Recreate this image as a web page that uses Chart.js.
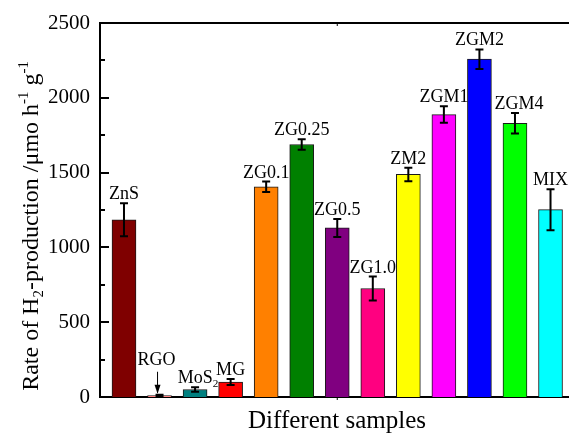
<!DOCTYPE html>
<html lang="en">
<head>
    <meta charset="UTF-8">
    <title>H2 production rate</title>
    <script src="https://cdn.jsdelivr.net/npm/chart.js"></script>
    <style>
        body { margin: 0; background: #fff; overflow: hidden; }
        canvas { display: block; }
    </style>
</head>
<body>
    <canvas id="rateChart" width="569" height="434"></canvas>

    <script>
        // sample names, rates (umol h-1 g-1) and error bars
        const samples = ["ZnS", "RGO", "MoS2", "MG", "ZG0.1", "ZG0.25", "ZG0.5", "ZG1.0", "ZM2", "ZGM1", "ZGM2", "ZGM4", "MIX"];
        const rates = [1185, 10, 50, 100, 1405, 1688, 1130, 725, 1488, 1888, 2258, 1830, 1252];
        const errors = [110, 5, 15, 20, 35, 35, 60, 80, 45, 55, 65, 68, 137];
        const barColors = ["#7f0000", "#ff8080", "#008080", "#ff0000", "#ff8000", "#008000", "#800080",
                           "#ff0080", "#ffff00", "#ff00ff", "#0000ff", "#00ff00", "#00ffff"];
        const yTicks = [0, 500, 1000, 1500, 2000, 2500];

        const serif = "'Liberation Serif', 'Times New Roman', serif";

        // draw text with sub/superscript pieces: [text, shift] where shift -1 sub, 1 sup
        function richText(ctx, parts, x, y, size) {
            let cx = x;
            parts.forEach(p => {
                let s = p[1] === 0 ? size : size * 0.62;
                let dy = p[1] === -1 ? size * 0.22 : (p[1] === 1 ? -size * 0.42 : 0);
                ctx.font = s + "px " + serif;
                ctx.fillText(p[0], cx, y + dy);
                cx += ctx.measureText(p[0]).width;
            });
            return cx - x;
        }
        function richWidth(ctx, parts, size) {
            let w = 0;
            parts.forEach(p => {
                ctx.font = (p[1] === 0 ? size : size * 0.62) + "px " + serif;
                w += ctx.measureText(p[0]).width;
            });
            return w;
        }

        const decorations = {
            id: "decorations",
            afterDatasetsDraw(chart) {
                const ctx = chart.ctx;
                const xs = chart.scales.x, ys = chart.scales.y;
                const area = chart.chartArea;
                ctx.save();
                ctx.strokeStyle = "#000";
                ctx.fillStyle = "#000";

                // frame: top and left lines
                ctx.lineWidth = 2;
                ctx.beginPath();
                ctx.moveTo(area.left, area.top);
                ctx.lineTo(area.right, area.top);
                ctx.moveTo(area.left, area.top - 1);
                ctx.lineTo(area.left, area.bottom + 1);
                ctx.stroke();

                // inward ticks on the y axis, major + minor
                for (let v = 0; v <= 2500; v += 250) {
                    let y = Math.round(ys.getPixelForValue(v));
                    let len = v % 500 === 0 ? 9 : 5;
                    ctx.beginPath();
                    ctx.moveTo(area.left, y);
                    ctx.lineTo(area.left + len, y);
                    ctx.stroke();
                }
                // small ticks on the x axis
                let tx = xs.getPixelForValue(6);
                ctx.lineWidth = 1;
                ctx.beginPath();
                ctx.moveTo(tx, area.bottom); ctx.lineTo(tx, area.bottom + 3);
                ctx.moveTo(tx, area.top); ctx.lineTo(tx, area.top + 3);
                ctx.stroke();

                // error bars
                ctx.lineWidth = 2;
                samples.forEach((s, i) => {
                    let x = xs.getPixelForValue(i);
                    let yt = ys.getPixelForValue(rates[i] + errors[i]);
                    let yb = ys.getPixelForValue(Math.max(rates[i] - errors[i], 0));
                    ctx.beginPath();
                    ctx.moveTo(x, yt); ctx.lineTo(x, yb);
                    ctx.moveTo(x - 4, yt); ctx.lineTo(x + 4, yt);
                    ctx.moveTo(x - 4, yb); ctx.lineTo(x + 4, yb);
                    ctx.stroke();
                });

                // sample labels above each bar
                ctx.textBaseline = "alphabetic";
                ctx.textAlign = "left";
                const fs = 18;
                samples.forEach((s, i) => {
                    let x = xs.getPixelForValue(i);
                    let yt = ys.getPixelForValue(rates[i] + errors[i]);
                    let parts = s === "MoS2" ? [["MoS", 0], ["2", -1]] : [[s, 0]];
                    let w = richWidth(ctx, parts, fs);
                    let base = yt - 4;
                    let dx = 0;
                    if (s === "RGO") {
                        base = yt - 30;
                        dx = -3;
                        // arrow pointing down to the tiny bar
                        ctx.lineWidth = 1;
                        ctx.beginPath();
                        ctx.moveTo(x - 2, base + 7);
                        ctx.lineTo(x - 2, yt - 2);
                        ctx.stroke();
                        ctx.beginPath();
                        ctx.moveTo(x - 5, yt - 10);
                        ctx.lineTo(x - 2, yt - 1);
                        ctx.lineTo(x + 1, yt - 10);
                        ctx.closePath();
                        ctx.fill();
                    }
                    if (s === "MoS2") dx = 3;
                    if (s === "ZGM4") dx = 4;
                    richText(ctx, parts, x - w / 2 + dx, base, fs);
                });

                // x axis title
                ctx.font = "25px " + serif;
                ctx.textAlign = "center";
                ctx.fillText("Different samples", 337, 428);

                // y axis title with subscript and superscripts
                ctx.textAlign = "left";
                const title = [["Rate of H", 0], ["2", -1], ["-production /\u03bcmo h", 0], ["-1", 1], [" g", 0], ["-1", 1]];
                const ts = 24;
                let tw = richWidth(ctx, title, ts);
                ctx.translate(38, 226);
                ctx.rotate(-Math.PI / 2);
                richText(ctx, title, -tw / 2, 0, ts);
                ctx.restore();
            }
        };

        new Chart(document.getElementById("rateChart"), {
            type: "bar",
            data: {
                datasets: [{
                    data: samples.map((s, i) => ({ x: i, y: rates[i] })),
                    backgroundColor: barColors,
                    borderColor: "#1a1a1a",
                    borderWidth: 1,
                    barThickness: 24
                }]
            },
            options: {
                responsive: false,
                animation: false,
                layout: { padding: { top: 23, right: 0, left: 0, bottom: 0 } },
                plugins: { legend: { display: false }, tooltip: { enabled: false } },
                scales: {
                    x: {
                        type: "linear",
                        offset: false,
                        min: -0.675,
                        max: 12.52,
                        grid: { display: false },
                        border: { display: true, color: "#000", width: 2 },
                        ticks: { display: false },
                        afterFit(s) { s.height = 37; }
                    },
                    y: {
                        min: 0,
                        max: 2500,
                        afterBuildTicks(s) { s.ticks = yTicks.map(v => ({ value: v })); },
                        grid: { display: false, drawTicks: false },
                        border: { display: true, color: "#000", width: 2 },
                        ticks: {
                            padding: 10,
                            color: "#000",
                            font: { family: serif, size: 21 },
                            callback: v => String(v)
                        },
                        afterFit(s) { s.width = 100; }
                    }
                }
            },
            plugins: [decorations]
        });
    </script>
</body>
</html>
